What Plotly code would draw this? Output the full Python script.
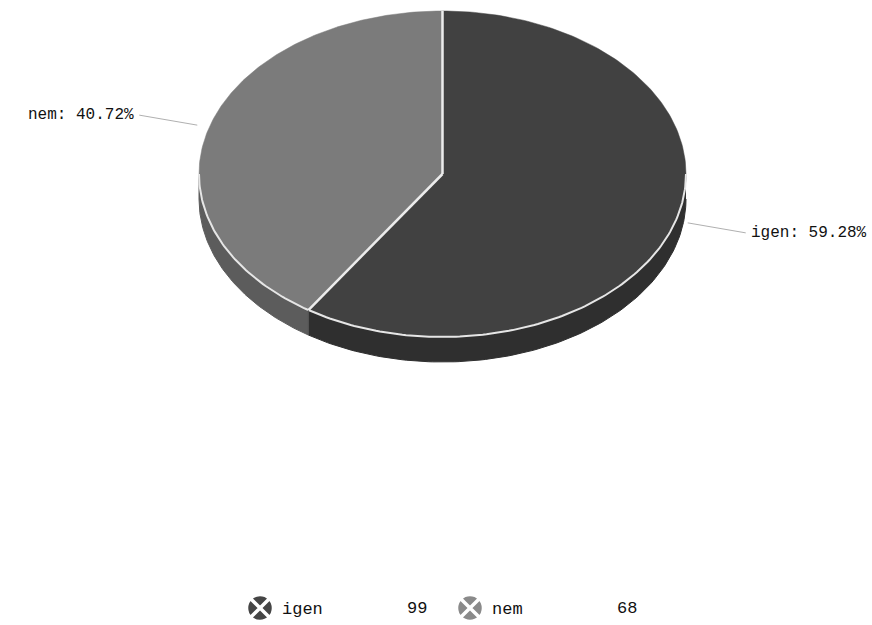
import numpy as np
import plotly.graph_objects as go

# ---- data ----
categories = ["igen", "nem"]
values = [99, 68]
top_colors = ["#414141", "#7b7b7b"]
side_colors = ["#2f2f2f", "#5c5c5c"]
icon_colors = ["#454545", "#8a8a8a"]

W, H = 872, 625
cx, cy = 442.5, 174.0
rx, ry = 243.5, 163.0
depth = 25.0
FONT = "Liberation Mono, Courier New, monospace"

total = float(sum(values))
fracs = [v / total for v in values]
starts = np.cumsum([0.0] + fracs[:-1]) * 360.0
ends = starts + np.array(fracs) * 360.0


def pt(deg, dy=0.0):
    t = np.radians(deg)
    return cx + rx * np.sin(t), cy - ry * np.cos(t) + dy


fig = go.Figure()

# sides (front half: 90..270 deg)
for i in range(len(values)):
    a0, a1 = max(starts[i], 90.0), min(ends[i], 270.0)
    if a1 <= a0:
        continue
    ang = np.linspace(a0, a1, 120)
    xt, yt = pt(ang)
    xb, yb = pt(ang[::-1], depth)
    fig.add_trace(go.Scatter(x=np.r_[xt, xb], y=np.r_[yt, yb], fill="toself",
                             fillcolor=side_colors[i], mode="lines",
                             line=dict(color=side_colors[i], width=1),
                             hoverinfo="skip", showlegend=False))

# top slices
for i in range(len(values)):
    ang = np.linspace(starts[i], ends[i], 200)
    xt, yt = pt(ang)
    fig.add_trace(go.Scatter(x=np.r_[cx, xt, cx], y=np.r_[cy, yt, cy], fill="toself",
                             fillcolor=top_colors[i], mode="lines",
                             line=dict(color=top_colors[i], width=0.5),
                             hoverinfo="skip", showlegend=False))

# rim highlight on front edge
ang = np.linspace(90, 270, 200)
xr, yr = pt(ang)
fig.add_trace(go.Scatter(x=xr, y=yr, mode="lines", line=dict(color="#e6e6e6", width=2),
                         hoverinfo="skip", showlegend=False))
# vertical edges of sides at slice boundaries
for a in starts:
    if 90 < a < 270:
        x0, y0 = pt(a)
        x1, y1 = pt(a, depth)
        fig.add_trace(go.Scatter(x=[x0, x1], y=[y0, y1], mode="lines",
                                 line=dict(color="#555555", width=1),
                                 hoverinfo="skip", showlegend=False))
# separators
for a in starts:
    x0, y0 = pt(a)
    fig.add_trace(go.Scatter(x=[cx, x0], y=[cy, y0], mode="lines",
                             line=dict(color="#ececec", width=2.5),
                             hoverinfo="skip", showlegend=False))

# data labels with connectors
for i in range(len(values)):
    mid = (starts[i] + ends[i]) / 2
    px, py = pt(mid)
    d = 1 if np.sin(np.radians(mid)) >= 0 else -1
    x0, y0 = px + d * 12, py + d * 2
    x1, y1 = px + d * 70, py + d * 12
    fig.add_trace(go.Scatter(x=[x0, x1], y=[y0, y1], mode="lines",
                             line=dict(color="#b0b0b0", width=1),
                             hoverinfo="skip", showlegend=False))
    fig.add_annotation(x=x1 + d * 3, y=y1, text=f"{categories[i]}: {fracs[i]*100:.2f}%",
                       showarrow=False, xanchor="left" if d > 0 else "right",
                       yanchor="middle", font=dict(family=FONT, size=16, color="#111111"))

# custom legend
leg_y = 608
for i in range(len(values)):
    ix = 260 + i * 210
    fig.add_trace(go.Scatter(x=[ix], y=[leg_y], mode="markers",
                             marker=dict(symbol="circle-x", size=27, color=icon_colors[i],
                                         line=dict(color="white", width=3.5)),
                             hoverinfo="skip", showlegend=False))
    fig.add_annotation(x=ix + 20, y=leg_y + 1, text=categories[i], showarrow=False,
                       xanchor="left", yanchor="middle",
                       font=dict(family=FONT, size=17, color="#111111"))
    fig.add_annotation(x=ix + 169, y=leg_y, text=str(values[i]), showarrow=False,
                       xanchor="right", yanchor="middle",
                       font=dict(family=FONT, size=17, color="#111111"))

fig.update_layout(width=W, height=H, margin=dict(l=0, r=0, t=0, b=0),
                  paper_bgcolor="white", plot_bgcolor="white",
                  xaxis=dict(range=[0, W], visible=False, fixedrange=True),
                  yaxis=dict(range=[H, 0], visible=False, fixedrange=True),
                  hovermode=False)
fig.write_html("out.html")
